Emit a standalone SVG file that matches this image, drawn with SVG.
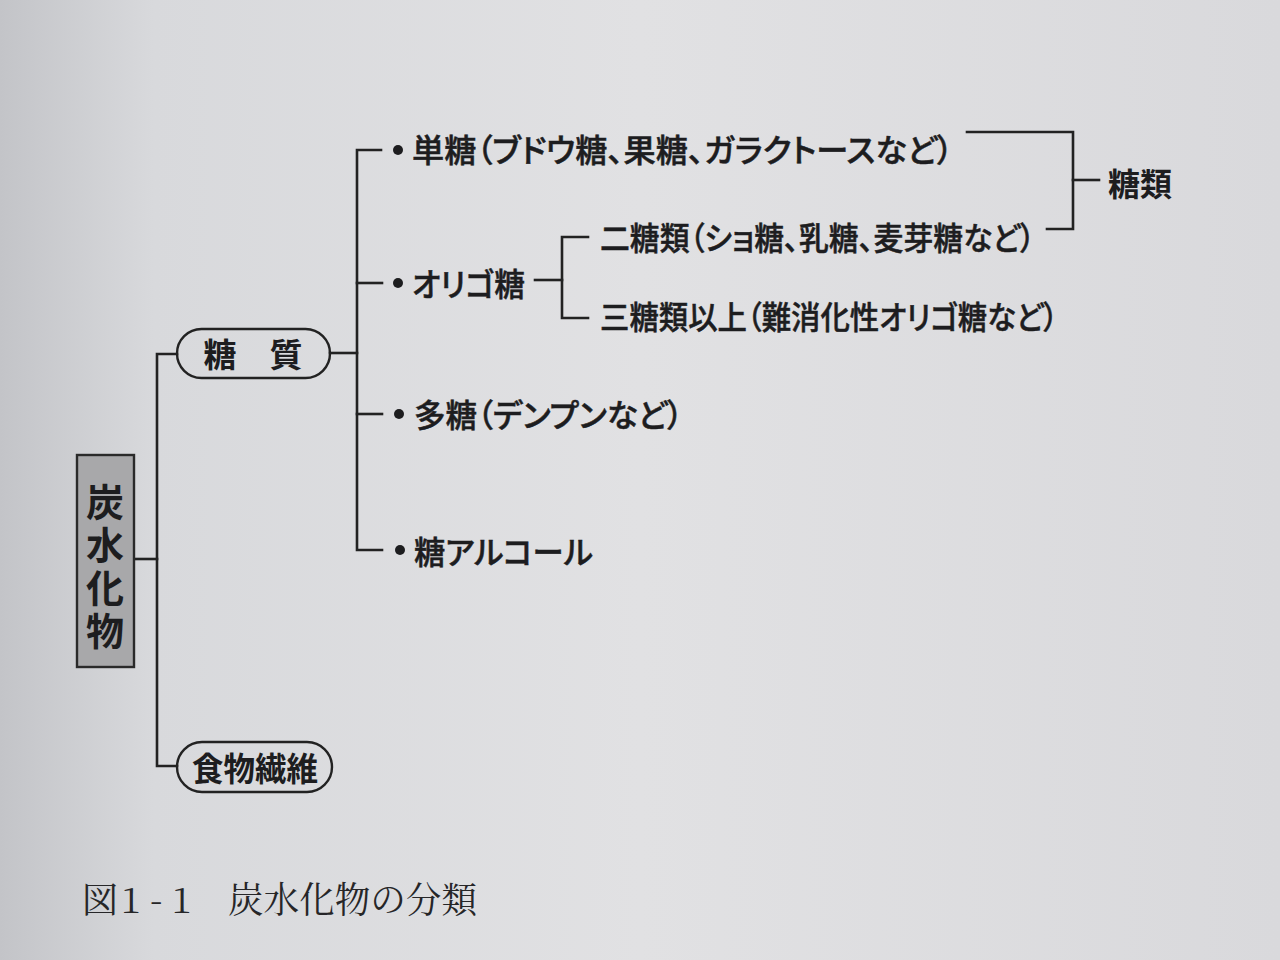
<svg xmlns="http://www.w3.org/2000/svg" width="1280" height="960" viewBox="0 0 1280 960">
  <defs>
    <linearGradient id="paper" x1="0" y1="0" x2="1" y2="0">
      <stop offset="0" stop-color="#c3c4c8"/>
      <stop offset="0.12" stop-color="#d8d9dc"/>
      <stop offset="0.5" stop-color="#e1e1e3"/>
      <stop offset="1" stop-color="#d9d9dc"/>
    </linearGradient>
    <style>
      .ln { stroke: #222; stroke-width: 2.6; fill: none; stroke-linecap: square; }
      .t { font-family: "Noto Sans CJK JP", "Noto Sans", sans-serif; fill: #1d1d1f; font-size: 32px; font-weight: 500; dominant-baseline: central; font-feature-settings: "palt"; stroke: #1d1d1f; stroke-width: 0.5; }
      .tb { font-family: "Noto Sans CJK JP", "Noto Sans", sans-serif; fill: #1d1d1f; font-weight: 700; dominant-baseline: central; }
      .pill { fill: none; stroke: #222; stroke-width: 2.4; }
      .dot { fill: #1d1d1f; }
      .cap { font-family: "Noto Serif CJK JP", "Liberation Serif", "Noto Sans CJK JP", serif; fill: #262628; font-size: 36px; font-weight: 400; dominant-baseline: central; }
    </style>
  </defs>
  <rect x="0" y="0" width="1280" height="960" fill="url(#paper)"/>

  <g id="connectors">
    <line class="ln" x1="134" y1="559" x2="157" y2="559"/>
    <polyline class="ln" points="177,354 157,354 157,766 177,766"/>
    <line class="ln" x1="330" y1="353" x2="357" y2="353"/>
    <polyline class="ln" points="381,150 357,150 357,550 382,550"/>
    <line class="ln" x1="357" y1="283" x2="382" y2="283"/>
    <line class="ln" x1="357" y1="414" x2="382" y2="414"/>
    <line class="ln" x1="535" y1="280" x2="562" y2="280"/>
    <polyline class="ln" points="588,237 562,237 562,318 588,318"/>
    <polyline class="ln" points="967,132 1073,132 1073,229 1047,229"/>
    <line class="ln" x1="1073" y1="180" x2="1099" y2="180"/>
  </g>

  <g id="node-carbohydrate">
    <rect x="77" y="455" width="57" height="212" fill="#a8a8aa" stroke="#2a2a2a" stroke-width="2.4"/>
    <text class="tb" font-size="38" x="105" y="483" writing-mode="vertical-rl" letter-spacing="5" style="dominant-baseline:auto">炭水化物</text>
  </g>

  <g id="node-toushitsu">
    <rect class="pill" x="177" y="329" width="153" height="49" rx="24.5"/>
    <text class="tb" font-size="33" text-anchor="middle" x="253" y="353">糖　質</text>
  </g>

  <g id="node-fiber">
    <rect class="pill" x="177" y="742" width="155" height="50" rx="25"/>
    <text class="tb" font-size="33" x="192" y="767" textLength="126" lengthAdjust="spacingAndGlyphs">食物繊維</text>
  </g>

  <g id="node-monosaccharide">
    <circle class="dot" cx="398" cy="150" r="5"/>
    <text class="t" x="412" y="148" textLength="541" lengthAdjust="spacingAndGlyphs">単糖（ブドウ糖、果糖、ガラクトースなど）</text>
  </g>

  <g id="node-oligosaccharide">
    <circle class="dot" cx="398" cy="283" r="5"/>
    <text class="t" x="412" y="282" textLength="113" lengthAdjust="spacingAndGlyphs">オリゴ糖</text>
  </g>

  <g id="node-disaccharide">
    <text class="t" x="600" y="236" textLength="435" lengthAdjust="spacingAndGlyphs">二糖類（ショ糖、乳糖、麦芽糖など）</text>
  </g>

  <g id="node-trisaccharide">
    <text class="t" x="600" y="315" textLength="458" lengthAdjust="spacingAndGlyphs">三糖類以上（難消化性オリゴ糖など）</text>
  </g>

  <g id="node-polysaccharide">
    <circle class="dot" cx="399" cy="414" r="5"/>
    <text class="t" x="414" y="413" textLength="269" lengthAdjust="spacingAndGlyphs">多糖（デンプンなど）</text>
  </g>

  <g id="node-sugar-alcohol">
    <circle class="dot" cx="400" cy="550" r="5"/>
    <text class="t" x="414" y="550" textLength="179" lengthAdjust="spacingAndGlyphs">糖アルコール</text>
  </g>

  <g id="node-sugars">
    <text class="tb" font-size="32" x="1108" y="182" textLength="64" lengthAdjust="spacingAndGlyphs">糖類</text>
  </g>

  <g id="caption">
    <text class="cap" x="82" y="897" font-size="33">図</text>
    <text class="cap" x="121" y="897" font-size="36" font-family="Liberation Serif, serif">1 - 1</text>
    <text class="cap" x="228" y="897" textLength="249" lengthAdjust="spacingAndGlyphs">炭水化物の分類</text>
  </g>
</svg>
